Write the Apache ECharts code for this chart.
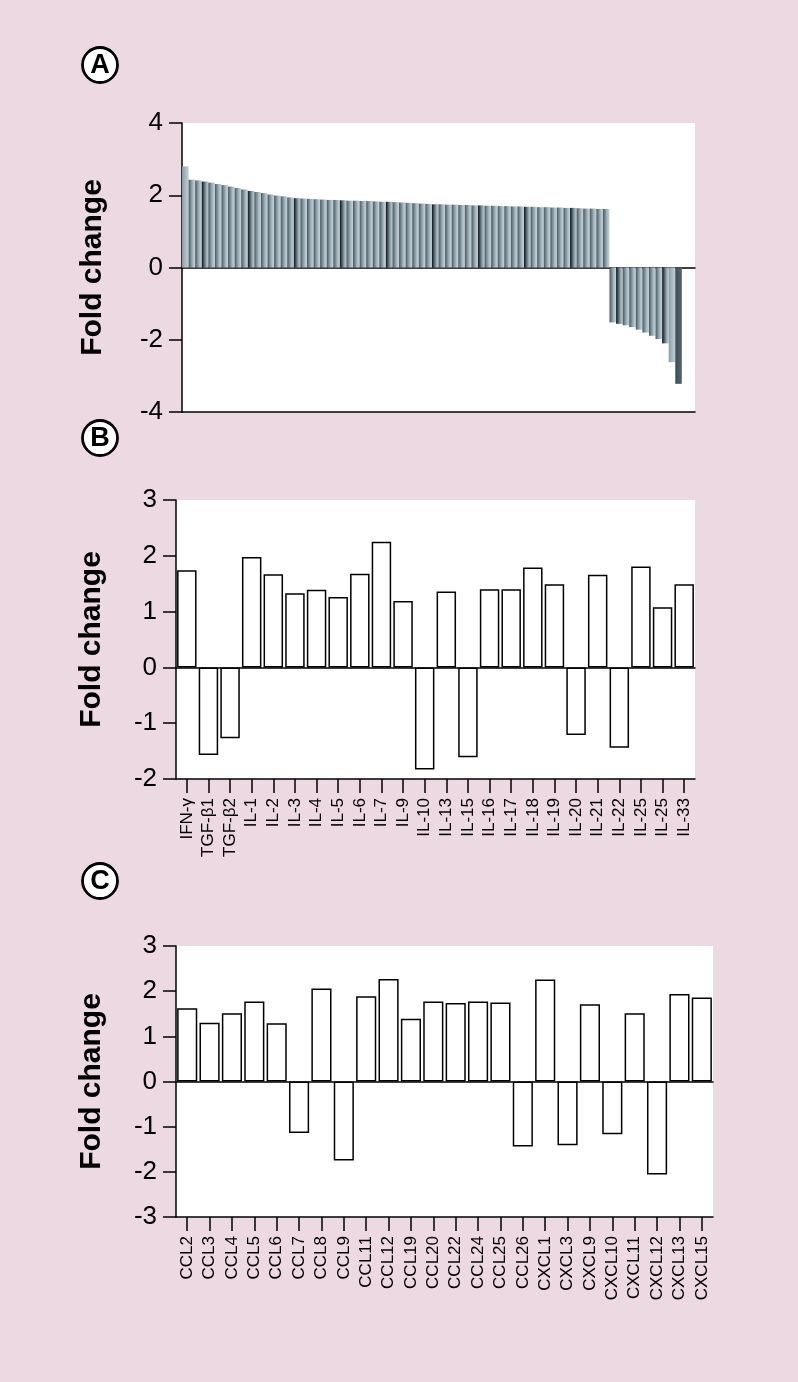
<!DOCTYPE html>
<html>
<head>
<meta charset="utf-8">
<script src="https://cdn.jsdelivr.net/npm/echarts@6/dist/echarts.min.js"></script>
<style>
html,body{margin:0;padding:0;background:#ecd9e2;}
#chart{width:798px;height:1382px;}
</style>
</head>
<body>
<div id="chart"></div>
<script>
// ---------- DATA ----------
// Panel A: fold change of all genes, sorted (65 up-regulated, 11 down-regulated)
const aValues = [
  2.80, 2.43, 2.41, 2.38, 2.35, 2.31, 2.28, 2.24, 2.20, 2.16,
  2.12, 2.09, 2.06, 2.02, 1.99, 1.97, 1.94, 1.92, 1.91, 1.90,
  1.89, 1.88, 1.87, 1.87, 1.86, 1.85, 1.85, 1.84, 1.84, 1.83,
  1.82, 1.82, 1.81, 1.80, 1.79, 1.78, 1.77, 1.76, 1.75, 1.75,
  1.74, 1.74, 1.73, 1.73, 1.72, 1.72, 1.71, 1.71, 1.70, 1.70,
  1.69, 1.69, 1.68, 1.68, 1.67, 1.67, 1.66, 1.66, 1.65, 1.65,
  1.64, 1.63, 1.63, 1.62, 1.62,
  -1.52, -1.56, -1.60, -1.65, -1.72, -1.80, -1.89, -1.98, -2.10, -2.62, -3.22
];
const aCategories = aValues.map((v, i) => String(i + 1));

// Panel B: cytokines
const bCategories = ['IFN-γ','TGF-β1','TGF-β2','IL-1','IL-2','IL-3','IL-4','IL-5','IL-6','IL-7','IL-9','IL-10',
                     'IL-13','IL-15','IL-16','IL-17','IL-18','IL-19','IL-20','IL-21','IL-22','IL-25','IL-25','IL-33'];
const bValues = [1.74, -1.57, -1.27, 1.98, 1.67, 1.33, 1.39, 1.26, 1.68, 2.25, 1.19, -1.83,
                 1.36, -1.61, 1.40, 1.40, 1.79, 1.49, -1.21, 1.66, -1.44, 1.81, 1.08, 1.49];

// Panel C: chemokines
const cCategories = ['CCL2','CCL3','CCL4','CCL5','CCL6','CCL7','CCL8','CCL9','CCL11','CCL12','CCL19','CCL20',
                     'CCL22','CCL24','CCL25','CCL26','CXCL1','CXCL3','CXCL9','CXCL10','CXCL11','CXCL12','CXCL13','CXCL15'];
const cValues = [1.62, 1.30, 1.51, 1.77, 1.29, -1.14, 2.06, -1.75, 1.89, 2.27, 1.39, 1.77,
                 1.74, 1.77, 1.75, -1.44, 2.26, -1.41, 1.71, -1.17, 1.51, -2.06, 1.94, 1.86];

// Axis ranges / tick steps
const aAxis = {min: -4, max: 4, interval: 2};
const bAxis = {min: -2, max: 3, interval: 1};
const cAxis = {min: -3, max: 3, interval: 1};
const panelLetters = ['A', 'B', 'C'];
const axisTitle = 'Fold change';

// ---------- STYLE ----------
const FONT = "'Liberation Sans', Arial, Helvetica, sans-serif";
const chart = echarts.init(document.getElementById('chart'), null, {renderer: 'canvas'});

function grad(stops) {
  return new echarts.graphic.LinearGradient(0, 0, 1, 0,
    stops.map((c, i) => ({offset: i / (stops.length - 1), color: c})));
}
const aNormal = grad(['#46545c', '#7a8d97', '#a9bac2', '#c8d4da']);
const aDark = grad(['#0e1214', '#4d5d66', '#93a6b0', '#bfccd2']);
const aLight = grad(['#8a9ca6', '#a9b9c1', '#c3cfd5']);
const aDeep = grad(['#3d4a51', '#4b5a62', '#55656e']);

function aColor(p) {
  const n = aValues.length;
  if (p.dataIndex === 0) return aLight;
  if (p.dataIndex === n - 1) return aDeep;
  if (p.dataIndex === n - 2) return aLight;
  if (p.dataIndex % 7 === 3) return aDark;
  return aNormal;
}

function yAxisCfg(gridIndex, rng, gap) {
  return {
    type: 'value', gridIndex, min: rng.min, max: rng.max, interval: rng.interval,
    name: axisTitle, nameLocation: 'middle', nameGap: gap, nameRotate: 90,
    nameTextStyle: {fontFamily: FONT, fontWeight: 'bold', fontSize: 30, color: '#000'},
    axisLine: {show: true, onZero: false, lineStyle: {color: '#000', width: 1.5}},
    axisTick: {show: true, inside: false, length: 13, lineStyle: {color: '#000', width: 1.5}},
    axisLabel: {fontFamily: FONT, fontSize: 26, color: '#000', margin: 19},
    splitLine: {show: false}
  };
}

function catAxis(gridIndex, cats) {
  return {
    type: 'category', gridIndex, data: cats, position: 'bottom',
    axisLine: {show: true, onZero: false, lineStyle: {color: '#000', width: 1.5}},
    axisTick: {show: true, alignWithLabel: true, length: 14, lineStyle: {color: '#000', width: 1.5}},
    axisLabel: {fontFamily: FONT, fontSize: 17, color: '#000', rotate: 90, margin: 19, interval: 0},
    splitLine: {show: false}
  };
}

function zeroAxis(gridIndex, cats, yIndex) {
  return {
    type: 'category', gridIndex, data: cats, position: 'bottom',
    axisLine: {show: true, onZero: true, onZeroAxisIndex: yIndex, lineStyle: {color: '#000', width: 1.5}},
    axisTick: {show: false}, axisLabel: {show: false}, splitLine: {show: false}
  };
}

function letter(ch, cx, cy) {
  return {
    type: 'group', children: [
      {type: 'circle', shape: {cx, cy, r: 17.5}, style: {fill: '#fff', stroke: '#000', lineWidth: 2.8}},
      {type: 'text', x: cx, y: cy + 1, style: {text: ch, fontFamily: FONT, fontWeight: 'bold', fontSize: 27,
        fill: '#000', align: 'center', verticalAlign: 'middle'}}
    ]
  };
}

const option = {
  backgroundColor: '#ecd9e2',
  animation: false,
  grid: [
    {left: 182, right: 103, top: 123, bottom: 970, show: true, backgroundColor: '#fff', borderWidth: 0, outerBoundsMode: 'none'},
    {left: 176, right: 103, top: 500, bottom: 603, show: true, backgroundColor: '#fff', borderWidth: 0, outerBoundsMode: 'none'},
    {left: 176, right: 85, top: 946, bottom: 165, show: true, backgroundColor: '#fff', borderWidth: 0, outerBoundsMode: 'none'}
  ],
  xAxis: [
    // A: zero line
    {type: 'category', gridIndex: 0, data: aCategories, max: aCategories.length + 1, position: 'bottom',
     axisLine: {show: true, onZero: true, onZeroAxisIndex: 0, lineStyle: {color: '#000', width: 1.5}},
     axisTick: {show: false}, axisLabel: {show: false}, splitLine: {show: false}},
    // A: bottom frame line
    {type: 'category', gridIndex: 0, data: aCategories, max: aCategories.length + 1, position: 'bottom',
     axisLine: {show: true, onZero: false, lineStyle: {color: '#000', width: 1.5}},
     axisTick: {show: false}, axisLabel: {show: false}, splitLine: {show: false}},
    catAxis(1, bCategories),
    zeroAxis(1, bCategories, 1),
    catAxis(2, cCategories),
    zeroAxis(2, cCategories, 2)
  ],
  yAxis: [
    yAxisCfg(0, aAxis, 74),
    yAxisCfg(1, bAxis, 69),
    yAxisCfg(2, cAxis, 69)
  ],
  series: [
    {type: 'bar', xAxisIndex: 0, yAxisIndex: 0, data: aValues, barCategoryGap: '0%',
     itemStyle: {color: aColor}},
    {type: 'bar', xAxisIndex: 2, yAxisIndex: 1, data: bValues, barCategoryGap: '10%',
     itemStyle: {color: '#fff', borderColor: '#000', borderWidth: 1.5}},
    {type: 'bar', xAxisIndex: 4, yAxisIndex: 2, data: cValues, barCategoryGap: '10%',
     itemStyle: {color: '#fff', borderColor: '#000', borderWidth: 1.5}}
  ],
  graphic: [
    letter(panelLetters[0], 100, 65),
    letter(panelLetters[1], 100, 438),
    letter(panelLetters[2], 100, 881)
  ]
};
chart.setOption(option);
</script>
</body>
</html>
